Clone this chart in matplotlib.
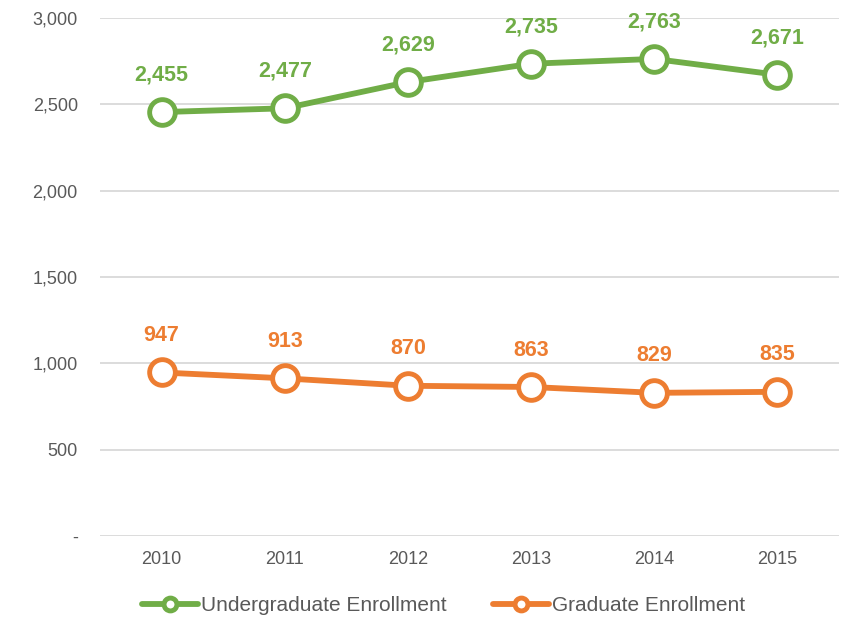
import numpy as np
import matplotlib.pyplot as plt
from matplotlib.ticker import FuncFormatter

plt.rcParams['font.family'] = ['Liberation Sans', 'DejaVu Sans']

# data
years = ["2010", "2011", "2012", "2013", "2014", "2015"]
undergrad = [2455, 2477, 2629, 2735, 2763, 2671]
graduate = [947, 913, 870, 863, 829, 835]

green = "#70AD47"
orange = "#ED7D31"

fig = plt.figure(figsize=(8.41, 6.2), dpi=100)
ax = fig.add_axes([0.119, 0.1355, 0.8786, 0.8355])

x = np.arange(len(years))
for vals, col, lab in [(undergrad, green, "Undergraduate Enrollment"),
                       (graduate, orange, "Graduate Enrollment")]:
    ax.plot(x, vals, color=col, lw=4.2, marker="o", ms=18.5, mew=3.5,
            mfc="white", mec=col, label=lab, solid_capstyle="round", zorder=3)
    for xi, v in zip(x, vals):
        ax.annotate(f"{v:,}", (xi, v), xytext=(0, 19), textcoords="offset points",
                    ha="center", va="bottom", fontsize=15.5, fontweight="bold", color=col)

ax.set_xlim(-0.5, len(years) - 0.5)
ax.set_ylim(0, 3000)
ax.set_yticks(np.arange(0, 3001, 500))
ax.yaxis.set_major_formatter(FuncFormatter(lambda v, p: "-" if v == 0 else f"{int(v):,}"))
ax.set_xticks(x)
ax.set_xticklabels(years)
ax.grid(axis="y", color="#D9D9D9", lw=1.3)
ax.set_axisbelow(True)
for s in ax.spines.values():
    s.set_visible(False)
ax.tick_params(axis="y", length=0, pad=16, labelsize=13, labelcolor="#595959")
ax.tick_params(axis="x", length=0, pad=11, labelsize=13, labelcolor="#595959")

leg = ax.legend(loc="upper center", bbox_to_anchor=(0.465, -0.08), ncol=2, frameon=False,
                fontsize=15, handlelength=2.7, handletextpad=0.15, columnspacing=2.2,
                markerscale=0.5, labelcolor="#595959")

fig.savefig("out.png", dpi=100)
